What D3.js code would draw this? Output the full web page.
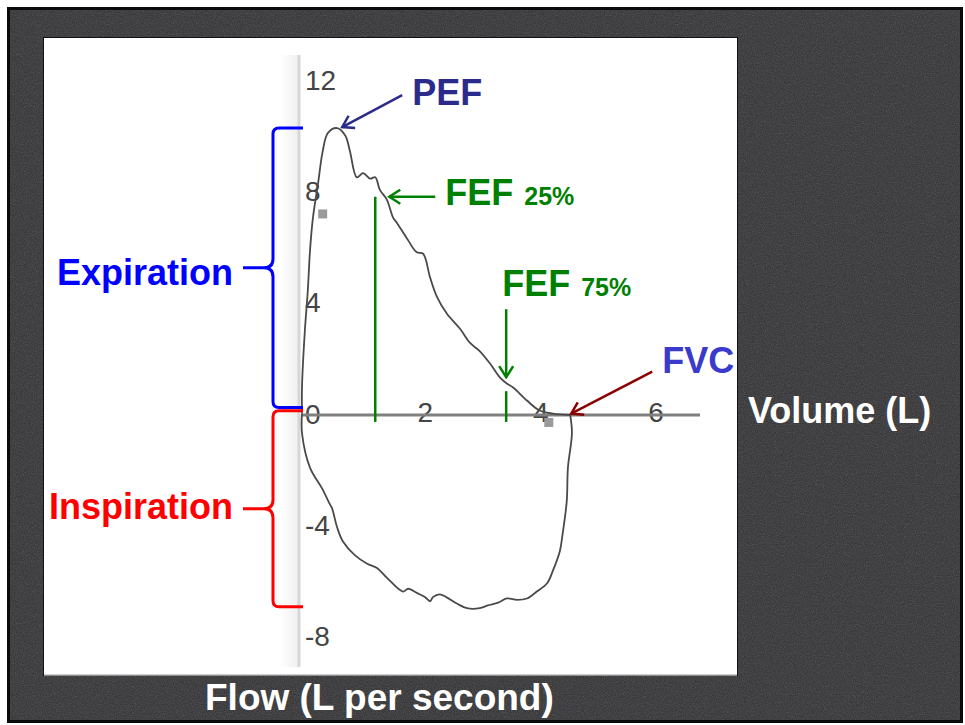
<!DOCTYPE html>
<html>
<head>
<meta charset="utf-8">
<script src="https://cdn.jsdelivr.net/npm/d3@7"></script>
<style>
  body { margin: 0; background: #fff; }
  svg { display: block; }
  text { font-family: "Liberation Sans", Arial, Helvetica, sans-serif; }
</style>
</head>
<body>
<div id="chart"></div>
<script>
const width = 965;
const height = 725;

// flow-volume loop: [volume (L), flow (L/s)]
const expiration = [
  [0, 0], [0.0, 0.95], [0.05, 3.0], [0.10, 4.4], [0.14, 5.9], [0.19, 7.05], [0.28, 8.3],
  [0.36, 9.45], [0.45, 10.1], [0.61, 10.27], [0.75, 10.0], [0.83, 9.45], [0.95, 8.5],
  [1.06, 8.65], [1.18, 8.45], [1.27, 8.5], [1.35, 8.05], [1.47, 7.7], [1.58, 7.05],
  [1.65, 6.85], [1.82, 6.3], [1.99, 5.8], [2.10, 5.75], [2.22, 4.9], [2.34, 4.2],
  [2.51, 3.6], [2.74, 3.05], [2.91, 2.55], [3.08, 2.25], [3.26, 1.8], [3.43, 1.3],
  [3.55, 1.08], [3.66, 0.94], [3.90, 0.47], [4.12, 0.11], [4.35, 0.0], [4.65, -0.05]
];
const inspiration = [
  [4.65, -0.05], [4.68, -0.7], [4.61, -1.95], [4.59, -3.15], [4.52, -4.3], [4.47, -4.95],
  [4.35, -5.65], [4.25, -6.1], [4.07, -6.4], [3.90, -6.65], [3.73, -6.7], [3.55, -6.65],
  [3.40, -6.8], [3.22, -6.9], [3.08, -7.0], [2.86, -7.0], [2.70, -6.85], [2.50, -6.6],
  [2.39, -6.5], [2.27, -6.6], [2.22, -6.75], [2.13, -6.6], [1.99, -6.45], [1.84, -6.3],
  [1.75, -6.4], [1.47, -5.9], [1.30, -5.55], [1.13, -5.4], [0.92, -5.1], [0.71, -4.6],
  [0.61, -4.1], [0.52, -3.4], [0.48, -3.25], [0.35, -2.7], [0.14, -1.95], [0.0, -0.7], [0, 0]
];

const yTicks = [12, 8, 4, 0, -4, -8];
const xTicks = [2, 4, 6];
const scanMarks = [[0.35, 7.2], [4.27, -0.3]];

const pef = [0.61, 10.27];
const fef25 = [1.27, 7.8];
const fef75 = [3.54, 0.95];
const fvc = [4.65, 0];

const phaseNames = ["Expiration", "Inspiration"];
const phaseRanges = [[10.27, 0.22], [0.1, -6.95]];

const svg = d3.select("#chart").append("svg")
  .attr("width", width)
  .attr("height", height);

const defs = svg.append("defs");

// noisy dark slide background
const noise = defs.append("filter").attr("id", "noise")
  .attr("x", 0).attr("y", 0).attr("width", "100%").attr("height", "100%");
noise.append("feTurbulence")
  .attr("type", "fractalNoise").attr("baseFrequency", 0.9)
  .attr("numOctaves", 2).attr("seed", 4);
noise.append("feColorMatrix")
  .attr("type", "matrix")
  .attr("values", "0 0 0 0 1  0 0 0 0 1  0 0 0 0 1  0.45 0.45 0.45 0 -0.55");

const band = defs.append("linearGradient").attr("id", "band");
band.append("stop").attr("offset", "0%").attr("stop-color", "#fff");
band.append("stop").attr("offset", "100%").attr("stop-color", "#eeeeee");

function arrowHead(id, color) {
  defs.append("marker")
    .attr("id", id)
    .attr("viewBox", "-1 -8 14 16")
    .attr("refX", 11).attr("refY", 0)
    .attr("markerWidth", 14).attr("markerHeight", 16)
    .attr("markerUnits", "userSpaceOnUse")
    .attr("orient", "auto")
    .append("path")
    .attr("d", "M0,-7L11,0L0,7")
    .attr("fill", "none")
    .attr("stroke", color)
    .attr("stroke-width", 2.5);
}
arrowHead("head-pef", "#2b2b8c");
arrowHead("head-fef", "#008000");
arrowHead("head-fvc", "#8b0000");

svg.append("rect")
  .attr("x", 8.5).attr("y", 8.5)
  .attr("width", 953).attr("height", 713)
  .attr("fill", "#3a3a3c")
  .attr("stroke", "#0a0a0a").attr("stroke-width", 3);
svg.append("rect")
  .attr("x", 10).attr("y", 10)
  .attr("width", 950).attr("height", 710)
  .attr("filter", "url(#noise)")
  .attr("opacity", 0.3);

// white scanned-chart panel
svg.append("rect")
  .attr("x", 43.5).attr("y", 37.5)
  .attr("width", 694).attr("height", 638)
  .attr("fill", "#fff")
  .attr("stroke", "#111").attr("stroke-width", 1);
svg.append("line")
  .attr("x1", 44).attr("x2", 737)
  .attr("y1", 675).attr("y2", 675)
  .attr("stroke", "#bbb").attr("stroke-width", 1.5);

const x = d3.scaleLinear().domain([0, 6.9]).range([302, 700]);
const y = d3.scaleLinear().domain([-8, 12]).range([636, 80]);

// faint vertical axis left by the scanner
svg.append("rect")
  .attr("x", x(0) - 22).attr("y", 55)
  .attr("width", 20).attr("height", 612)
  .attr("fill", "url(#band)");
svg.append("line")
  .attr("x1", x(0) - 3).attr("x2", x(0) - 3)
  .attr("y1", 55).attr("y2", 667)
  .attr("stroke", "#d6d6d6").attr("stroke-width", 3);

// tick labels from the scan
svg.append("g")
  .selectAll("text")
  .data(yTicks)
  .join("text")
  .attr("x", x(0) + 3)
  .attr("y", d => y(d))
  .attr("dy", "0.36em")
  .attr("font-size", 28)
  .attr("fill", "#444")
  .text(d => d);

svg.append("g")
  .selectAll("text")
  .data(xTicks)
  .join("text")
  .attr("x", d => x(d) + 8)
  .attr("y", y(0) - 2)
  .attr("dy", "0.36em")
  .attr("text-anchor", "middle")
  .attr("font-size", 28)
  .attr("fill", "#444")
  .text(d => d);

svg.append("g")
  .selectAll("rect")
  .data(scanMarks)
  .join("rect")
  .attr("x", d => x(d[0]) - 4)
  .attr("y", d => y(d[1]) - 4)
  .attr("width", 9).attr("height", 9)
  .attr("fill", "#9a9a9a");

// volume axis drawn over the scan
svg.append("line")
  .attr("x1", x(0)).attr("x2", x(6.9))
  .attr("y1", y(0) + 1.5).attr("y2", y(0) + 1.5)
  .attr("stroke", "#808080").attr("stroke-width", 3);

const line = d3.line()
  .x(d => x(d[0]))
  .y(d => y(d[1]))
  .curve(d3.curveCatmullRom.alpha(0.5));

svg.append("path")
  .datum(expiration)
  .attr("d", line)
  .attr("fill", "none")
  .attr("stroke", "#4a4a4a")
  .attr("stroke-width", 1.8)
  .attr("stroke-linejoin", "round");
svg.append("path")
  .datum(inspiration)
  .attr("d", line)
  .attr("fill", "none")
  .attr("stroke", "#4a4a4a")
  .attr("stroke-width", 1.8)
  .attr("stroke-linejoin", "round");

// FEF markers
[fef25, fef75].forEach((p, i) => {
  svg.append("line")
    .attr("x1", x(p[0])).attr("x2", x(p[0]))
    .attr("y1", i === 0 ? y(p[1]) : y(p[1]) + 4)
    .attr("y2", y(-0.3))
    .attr("stroke", "#008000").attr("stroke-width", 2.5);
});

// braces for expiration / inspiration
const braceColors = ["#0000ff", "#ff0000"];
const xr = x(0) + 1, xv = x(0) - 29, xt = x(0) - 59;
phaseRanges.forEach((r, i) => {
  const ty = y(r[0]), by = y(r[1]), my = (ty + by) / 2;
  const p = d3.path();
  p.moveTo(xr, ty);
  p.lineTo(xv + 6, ty);
  p.quadraticCurveTo(xv, ty, xv, ty + 6);
  p.lineTo(xv, my - 9);
  p.quadraticCurveTo(xv, my, xv - 9, my);
  p.lineTo(xt, my);
  p.moveTo(xv - 9, my);
  p.quadraticCurveTo(xv, my, xv, my + 9);
  p.lineTo(xv, by - 6);
  p.quadraticCurveTo(xv, by, xv + 6, by);
  p.lineTo(xr, by);
  svg.append("path")
    .attr("d", p.toString())
    .attr("fill", "none")
    .attr("stroke", braceColors[i])
    .attr("stroke-width", 3);
  svg.append("text")
    .attr("x", xt - 10)
    .attr("y", my + (i === 0 ? 17 : 10))
    .attr("text-anchor", "end")
    .attr("font-size", 36)
    .attr("font-weight", "bold")
    .attr("fill", braceColors[i])
    .text(phaseNames[i]);
});

// annotations
function arrow(x1, y1, x2, y2, color, head) {
  svg.append("line")
    .attr("x1", x1).attr("y1", y1)
    .attr("x2", x2).attr("y2", y2)
    .attr("stroke", color).attr("stroke-width", 2.5)
    .attr("marker-end", `url(#${head})`);
}

arrow(x(pef[0]) + 65, y(pef[1]) - 33, x(pef[0]) + 5, y(pef[1]) - 1, "#2b2b8c", "head-pef");
svg.append("text")
  .attr("x", x(pef[0]) + 75).attr("y", y(pef[1]) - 23)
  .attr("font-size", 36).attr("font-weight", "bold")
  .attr("fill", "#2b2b8c")
  .text("PEF");

arrow(x(fef25[0]) + 60, y(fef25[1]), x(fef25[0]) + 14, y(fef25[1]), "#008000", "head-fef");
const t25 = svg.append("text")
  .attr("x", x(fef25[0]) + 70).attr("y", y(fef25[1]) + 8)
  .attr("font-weight", "bold").attr("fill", "#008000");
t25.append("tspan").attr("font-size", 36).text("FEF");
t25.append("tspan").attr("font-size", 25).attr("dx", 11).text("25%");

arrow(x(fef75[0]), y(fef75[1]) - 78, x(fef75[0]), y(fef75[1]) - 10, "#008000", "head-fef");
const t75 = svg.append("text")
  .attr("x", x(fef75[0]) - 4).attr("y", y(fef75[1]) - 91)
  .attr("font-weight", "bold").attr("fill", "#008000");
t75.append("tspan").attr("font-size", 36).text("FEF");
t75.append("tspan").attr("font-size", 25).attr("dx", 11).text("75%");

arrow(x(fvc[0]) + 82, y(fvc[1]) - 42, x(fvc[0]) + 1, y(fvc[1]), "#8b0000", "head-fvc");
svg.append("text")
  .attr("x", x(fvc[0]) + 92).attr("y", y(fvc[1]) - 41)
  .attr("font-size", 36).attr("font-weight", "bold")
  .attr("fill", "#3a3acc")
  .text("FVC");

// axis titles on the slide
svg.append("text")
  .attr("x", 748).attr("y", 423)
  .attr("font-size", 36).attr("font-weight", "bold")
  .attr("fill", "#fff")
  .text("Volume (L)");
svg.append("text")
  .attr("x", 205).attr("y", 710)
  .attr("font-size", 37).attr("font-weight", "bold")
  .attr("fill", "#fff")
  .text("Flow (L per second)");
</script>
</body>
</html>
